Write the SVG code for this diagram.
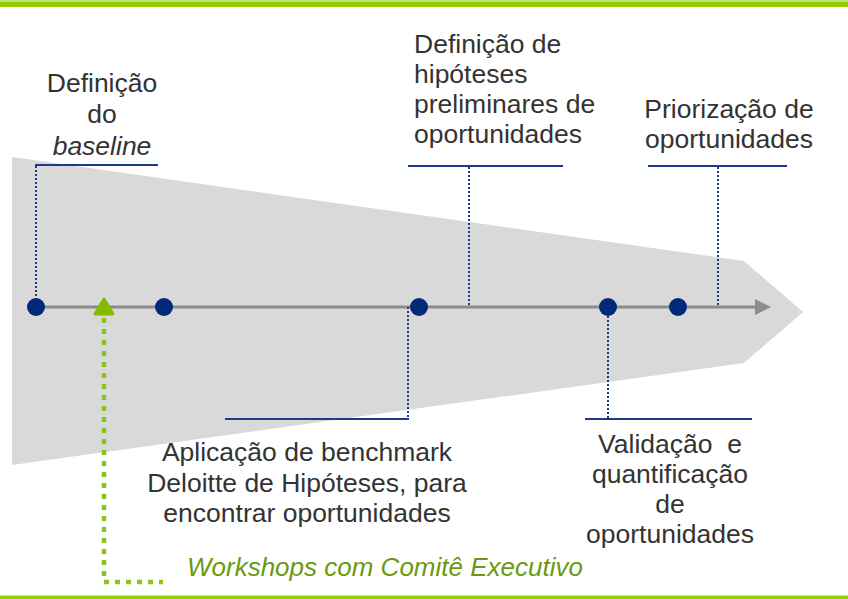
<svg xmlns="http://www.w3.org/2000/svg" width="848" height="599" viewBox="0 0 848 599">
<style>
.t{font-family:"Liberation Sans",Arial,sans-serif;font-size:26.5px;fill:#333333}
.c{text-anchor:middle}
.i{font-style:italic}
.lead{stroke:#1b3a8c;stroke-width:2;fill:none}
.dot{stroke:#1b3a8c;stroke-width:2;stroke-dasharray:2 2;fill:none}
.node{fill:#00297a}
</style>
<rect x="0" y="0" width="848" height="1.5" fill="#c6e38a"/>
<rect x="0" y="1.5" width="848" height="5.5" fill="#94cf00"/>
<rect x="0" y="595.5" width="848" height="3.5" fill="#94cf00"/>
<polygon points="12,157 744,261 803,312 744,363 12,465" fill="#d9d9d9"/>
<g id="connectors">
<line x1="36" y1="307" x2="758" y2="307" stroke="#8c8c8c" stroke-width="3"/>
<polygon points="755,299 771,307 755,315" fill="#8c8c8c"/>
<path class="dot" d="M36 166 V300"/>
<path class="lead" d="M35 165 H158"/>
<path class="dot" d="M469 167 V307"/>
<path class="lead" d="M408 166 H563"/>
<path class="dot" d="M718 167 V307"/>
<path class="lead" d="M648 166 H787"/>
<path class="dot" d="M608 312 V418"/>
<path class="lead" d="M585 419 H752"/>
<path class="dot" d="M408 307 V418"/>
<path class="lead" d="M225 419 H409"/>
<path d="M104 318 V582 H163" fill="none" stroke="#8dc21f" stroke-width="4.5" stroke-dasharray="5 6"/>
<polygon points="95,314 104,299 113,314" fill="#84bc00" stroke="#84bc00" stroke-width="3" stroke-linejoin="round"/>
</g>
<g id="n1"><circle class="node" cx="36" cy="307" r="9"/></g>
<g id="n2"><circle class="node" cx="164" cy="307" r="9"/></g>
<g id="n3"><circle class="node" cx="419" cy="307" r="9"/></g>
<g id="n4"><circle class="node" cx="608" cy="307" r="9"/></g>
<g id="n5"><circle class="node" cx="678" cy="307" r="9"/></g>
<g id="label-baseline">
<text class="t c" x="102" y="92">Definição</text>
<text class="t c" x="102" y="123">do</text>
<text class="t c i" x="102" y="155">baseline</text>
</g>
<g id="label-hipoteses">
<text class="t" x="414" y="53">Definição de</text>
<text class="t" x="414" y="83">hipóteses</text>
<text class="t" x="414" y="113">preliminares de</text>
<text class="t" x="414" y="143">oportunidades</text>
</g>
<g id="label-priorizacao">
<text class="t c" x="729" y="118">Priorização de</text>
<text class="t c" x="729" y="148">oportunidades</text>
</g>
<g id="label-aplicacao">
<text class="t c" x="307" y="461">Aplicação de benchmark</text>
<text class="t c" x="307" y="492">Deloitte de Hipóteses, para</text>
<text class="t c" x="307" y="522">encontrar oportunidades</text>
</g>
<g id="label-validacao">
<text class="t c" x="670" y="453" xml:space="preserve">Validação  e</text>
<text class="t c" x="670" y="483">quantificação</text>
<text class="t c" x="670" y="513">de</text>
<text class="t c" x="670" y="543">oportunidades</text>
</g>
<g id="label-workshops">
<text class="t i" x="187" y="576" style="fill:#6b9a10;font-size:26px">Workshops com Comitê Executivo</text>
</g>
</svg>
